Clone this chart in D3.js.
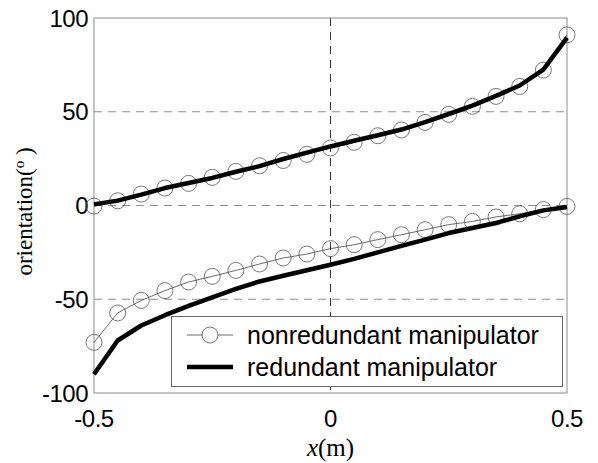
<!DOCTYPE html>
<html>
<head>
<meta charset="utf-8">
<script src="https://cdn.jsdelivr.net/npm/d3@7"></script>
<style>
  body { margin: 0; background: #fff; }
  text { fill: #000; }
</style>
</head>
<body>
<script>
// x positions along the path (m)
var xs = [-0.5, -0.45, -0.4, -0.35, -0.3, -0.25, -0.2, -0.15, -0.1, -0.05, 0,
          0.05, 0.1, 0.15, 0.2, 0.25, 0.3, 0.35, 0.4, 0.45, 0.5];

// nonredundant manipulator: two branches (circles)
var nonredUpper = [-0.3, 2.5, 6.1, 9.3, 11.8, 15, 18.2, 21.2, 24, 27.3, 30.7,
                   33.7, 37.2, 40.3, 44.3, 48.6, 52.9, 58.2, 63.5, 72.2, 91];
var nonredLower = [-73, -57.3, -50.6, -45.4, -40.8, -37.8, -34.6, -31.2, -28, -25.9, -23,
                   -20.9, -18.2, -15.6, -12.9, -10.2, -8.5, -6.1, -4.4, -2.2, -0.5];

// redundant manipulator: two branches (thick line)
var redUpper = [0.6, 2.6, 5.8, 9.3, 12, 14.7, 18, 21, 24.8, 28.2, 31.5,
                34.5, 37.5, 40.5, 44.5, 48.8, 53.3, 58.5, 64, 72.5, 89.5];
var redLower = [-90, -72, -64, -58.5, -53.5, -49, -44.5, -40.5, -37.5, -34.5, -31.6,
                -28.5, -25, -21.5, -18.2, -14.7, -12, -9.3, -5.8, -2.6, -0.8];

var xTicks = [-0.5, 0, 0.5];
var yTicks = [-100, -50, 0, 50, 100];
var legendLabels = ["nonredundant manipulator", "redundant manipulator"];

var W = 598, H = 463;
var m = {left: 94, right: 31, top: 18, bottom: 70};

var svg = d3.select("body").append("svg")
  .attr("width", W).attr("height", H);

var x = d3.scaleLinear().domain([-0.5, 0.5]).range([m.left, W - m.right]);
var y = d3.scaleLinear().domain([-100, 100]).range([H - m.bottom, m.top]);

// dashed grid at -50, 50 and the zero lines
svg.selectAll(".gy").data([-50, 0, 50]).enter().append("line")
  .attr("x1", x(-0.5)).attr("x2", x(0.5))
  .attr("y1", function(d){ return y(d); }).attr("y2", function(d){ return y(d); })
  .attr("stroke", "#8c8c8c").attr("stroke-width", 1)
  .attr("stroke-dasharray", "8,6");
svg.append("line")
  .attr("x1", x(0)).attr("x2", x(0))
  .attr("y1", y(100)).attr("y2", y(-100))
  .attr("stroke", "#333").attr("stroke-width", 1)
  .attr("stroke-dasharray", "8,6");

// frame
svg.append("rect")
  .attr("x", x(-0.5)).attr("y", y(100))
  .attr("width", x(0.5) - x(-0.5)).attr("height", y(-100) - y(100))
  .attr("fill", "none").attr("stroke", "#8c8c8c").attr("stroke-width", 1);

// tick labels
svg.selectAll(".yt").data(yTicks).enter().append("text")
  .attr("x", x(-0.5) - 6).attr("y", function(d){ return y(d); })
  .attr("dy", "0.36em").attr("text-anchor", "end")
  .attr("font-family", "Liberation Sans, Arial, sans-serif").attr("font-size", 24)
  .attr("letter-spacing", -0.5)
  .text(function(d){ return d; });
svg.selectAll(".xt").data(xTicks).enter().append("text")
  .attr("x", function(d){ return x(d); }).attr("y", y(-100) + 34)
  .attr("text-anchor", "middle")
  .attr("font-family", "Liberation Sans, Arial, sans-serif").attr("font-size", 24)
  .attr("letter-spacing", -0.5)
  .text(function(d){ return d; });

// axis titles
var yl = svg.append("text")
  .attr("transform", "translate(32," + (y(0) + 6) + ") rotate(-90)")
  .attr("text-anchor", "middle")
  .attr("font-family", "Liberation Serif, Times New Roman, serif").attr("font-size", 23);
yl.append("tspan").text("orientation(");
yl.append("tspan").attr("font-size", 15).attr("dy", -8).text("o");
yl.append("tspan").attr("dy", 8).text(" )");

var xl = svg.append("text")
  .attr("x", x(0)).attr("y", 456).attr("text-anchor", "middle")
  .attr("font-family", "Liberation Serif, Times New Roman, serif").attr("font-size", 25);
xl.append("tspan").attr("font-style", "italic").text("x");
xl.append("tspan").text("(m)");

var line = d3.line()
  .x(function(d){ return x(d[0]); })
  .y(function(d){ return y(d[1]); });

function pairs(vals) { return xs.map(function(v, i){ return [v, vals[i]]; }); }

// nonredundant: thin line with open circles
[nonredUpper, nonredLower].forEach(function(vals){
  var pts = pairs(vals);
  svg.append("path").datum(pts).attr("d", line)
    .attr("fill", "none").attr("stroke", "#444").attr("stroke-width", 0.8);
  svg.append("g").selectAll("circle").data(pts).enter().append("circle")
    .attr("cx", function(d){ return x(d[0]); })
    .attr("cy", function(d){ return y(d[1]); })
    .attr("r", 8)
    .attr("fill", "none").attr("stroke", "#555").attr("stroke-width", 0.8);
});

// redundant: thick black line
[redUpper, redLower].forEach(function(vals){
  svg.append("path").datum(pairs(vals)).attr("d", line)
    .attr("fill", "none").attr("stroke", "#000").attr("stroke-width", 4.5)
    .attr("stroke-linejoin", "round");
});

// legend
var lg = svg.append("g");
lg.append("rect")
  .attr("x", 171.5).attr("y", 316.5).attr("width", 391).attr("height", 70)
  .attr("fill", "#fff").attr("stroke", "#666").attr("stroke-width", 1);
var rows = [335, 367];
lg.append("line").attr("x1", 187).attr("x2", 233).attr("y1", rows[0]).attr("y2", rows[0])
  .attr("stroke", "#444").attr("stroke-width", 0.8);
lg.append("circle").attr("cx", 210).attr("cy", rows[0]).attr("r", 8)
  .attr("fill", "#fff").attr("stroke", "#555").attr("stroke-width", 0.8);
lg.append("line").attr("x1", 187).attr("x2", 233).attr("y1", rows[1]).attr("y2", rows[1])
  .attr("stroke", "#000").attr("stroke-width", 4.5);
lg.selectAll(".lt").data(legendLabels).enter().append("text")
  .attr("x", 247).attr("y", function(d, i){ return rows[i]; })
  .attr("dy", "0.36em")
  .attr("font-family", "Liberation Sans, Arial, sans-serif").attr("font-size", 25)
  .text(function(d){ return d; });
</script>
</body>
</html>
